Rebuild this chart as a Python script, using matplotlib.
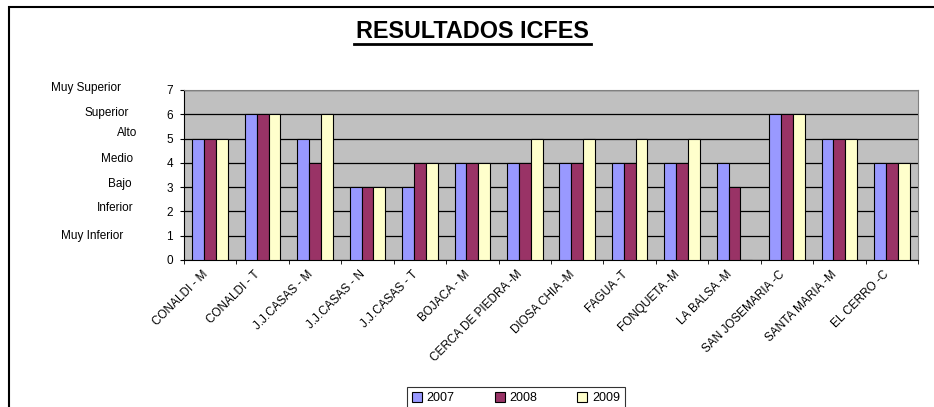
import matplotlib.pyplot as plt
from matplotlib.patches import Rectangle
import numpy as np

plt.rcParams['font.family'] = ['Liberation Sans', 'DejaVu Sans']

# datos
colegios = ['CONALDI - M', 'CONALDI - T', 'J.J.CASAS - M', 'J.J.CASAS - N',
            'J.J.CASAS - T', 'BOJACA - M', 'CERCA DE PIEDRA -M', 'DIOSA CHIA -M',
            'FAGUA -T', 'FONQUETA -M', 'LA BALSA -M', 'SAN JOSEMARIA -C',
            'SANTA MARIA -M', 'EL CERRO -C']
anios = ['2007', '2008', '2009']
r2007 = [5, 6, 5, 3, 3, 4, 4, 4, 4, 4, 4, 6, 5, 4]
r2008 = [5, 6, 4, 3, 4, 4, 4, 4, 4, 4, 3, 6, 5, 4]
r2009 = [5, 6, 6, 3, 4, 4, 5, 5, 5, 5, 0, 6, 5, 4]
niveles = ['Muy Superior', 'Superior', 'Alto', 'Medio', 'Bajo', 'Inferior', 'Muy Inferior']

colores = ['#9999FF', '#993366', '#FFFFCC']

fig = plt.figure(figsize=(9.34, 4.07), dpi=100)
ax = fig.add_axes([184/934., 1-260/407., (918-184)/934., (260-90)/407.])
ax.set_facecolor('#C0C0C0')

x = np.arange(len(colegios))
w = 0.227
for i, serie in enumerate([r2007, r2008, r2009]):
    ax.bar(x + (i-1)*w, serie, w, color=colores[i], edgecolor='black',
           linewidth=0.8, label=anios[i], zorder=3)

ax.set_xlim(-0.5, len(colegios)-0.5)
ax.set_ylim(0, 7)
ax.set_yticks(range(8))
ax.yaxis.grid(True, color='black', linewidth=0.9, zorder=1)
ax.set_axisbelow(True)
ax.tick_params(axis='y', labelsize=8.5, length=3, direction='out', pad=5)

ax.set_xticks(x)
ax.set_xticklabels(colegios, rotation=45, ha='right', fontsize=8.5)
ax.set_xticks(np.arange(len(colegios)+1)-0.5, minor=True)
ax.tick_params(axis='x', which='major', length=0, pad=6)
ax.tick_params(axis='x', which='minor', length=3, direction='out')

for s in ['top', 'right']:
    ax.spines[s].set_color('#808080')
ax.spines['left'].set_color('black')
ax.spines['bottom'].set_color('black')

# etiquetas de nivel
pos_x = [86, 107, 127, 117, 120, 115, 92]
pos_y = [88, 113, 133, 159, 184, 208, 236]
for t, px, py in zip(niveles, pos_x, pos_y):
    fig.text(px/934., 1-py/407., t, ha='center', va='center', fontsize=8.5)

fig.text(472/934., 1-31/407., 'RESULTADOS ICFES', ha='center', va='center',
         fontsize=16.8, fontweight='bold')
fig.add_artist(plt.Line2D([354/934., 591/934.], [1-43.5/407., 1-43.5/407.],
                          color='black', linewidth=2))

fig.add_artist(Rectangle((9/934., -0.2), 2.0, 1-7/407.+0.2, transform=fig.transFigure,
                         fill=False, edgecolor='black', linewidth=1.5))

leg = fig.legend(loc='upper center', bbox_to_anchor=(516/934., 1-381/407.), ncol=3,
                 fontsize=9, frameon=True, fancybox=False, edgecolor='black',
                 handlelength=0.8, handleheight=0.8, columnspacing=3.2,
                 borderpad=0.4, handletextpad=0.4)
leg.get_frame().set_linewidth(0.8)

plt.savefig('out.png', dpi=100)
